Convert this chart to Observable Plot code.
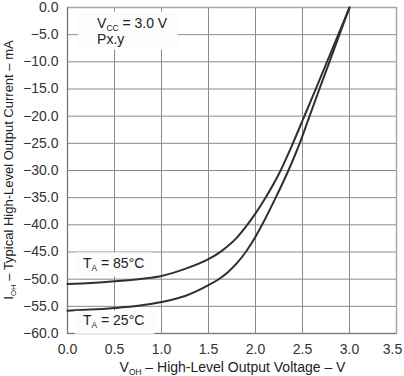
<!DOCTYPE html>
<html><head><meta charset="utf-8">
<script src="https://cdn.jsdelivr.net/npm/d3@7"></script>
<script src="https://cdn.jsdelivr.net/npm/@observablehq/plot@0.6"></script>
<style>
body{margin:0;background:#fff;}
svg{display:block;}
</style>
</head><body><div id="chart"></div>
<script>
// ---- data ----
const xTicks = [0, 0.5, 1.0, 1.5, 2.0, 2.5, 3.0, 3.5];
const yTicks = [0, -5, -10, -15, -20, -25, -30, -35, -40, -45, -50, -55, -60];

const volts85 = [0, 0.25, 0.5, 0.75, 1.0, 1.25, 1.5, 1.6, 1.7, 1.8, 1.9, 2.0, 2.1, 2.25, 2.385, 2.51, 2.634, 2.756, 2.878, 3.0];
const current85 = [-50.9, -50.7, -50.4, -50.0, -49.4, -48.1, -46.3, -45.3, -44.0, -42.4, -40.3, -37.9, -35.2, -30.6, -25.5, -20.4, -15.3, -10.2, -5.1, 0];

const volts25 = [0, 0.25, 0.5, 0.75, 1.0, 1.25, 1.5, 1.6, 1.7, 1.8, 1.9, 2.0, 2.07, 2.215, 2.35, 2.47, 2.575, 2.68, 2.787, 2.893, 3.0];
const current25 = [-55.8, -55.6, -55.3, -54.9, -54.2, -53.1, -51.1, -50.1, -48.8, -47.1, -44.9, -42.2, -40.0, -35.0, -30.0, -25.0, -20.0, -15.0, -10.0, -5.0, 0];

const seriesNames = ["TA = 85°C", "TA = 25°C"];

// annotation texts (main, subscript, rest) and their anchors in data units
const noteMain = ["V", "", "T", "T"];
const noteSub = ["CC", "", "A", "A"];
const noteRest = [" = 3.0 V", "Px.y", " = 85°C", " = 25°C"];
const noteX = [0.32, 0.32, 0.17, 0.17];
const noteY = [-3.8, -6.9, -48.1, -58.5];

const xLabel = ["V", "OH", " – High-Level Output Voltage – V"];
const yLabel = ["I", "OH", " – Typical High-Level Output Current – mA"];

// ---- table ----
const rows = [
  ...volts85.map((v, k) => ({v, i: current85[k], s: seriesNames[0]})),
  ...volts25.map((v, k) => ({v, i: current25[k], s: seriesNames[1]}))
];

const fmt = d3.format(".1f");
const FONT = "'Liberation Sans', Arial, Helvetica, sans-serif";

const chart = Plot.plot({
  width: 404,
  height: 376,
  marginLeft: 67,
  marginRight: 8,
  marginTop: 7,
  marginBottom: 43,
  style: {fontFamily: FONT, fontSize: "14px", color: "#333", background: "#fff"},
  x: {domain: [0, 3.5], ticks: xTicks, tickFormat: fmt, label: null},
  y: {domain: [-60, 0], ticks: yTicks, tickFormat: fmt, label: null},
  marks: [
    Plot.gridX(xTicks, {stroke: "#8a8a8a", strokeOpacity: 1}),
    Plot.gridY(yTicks, {stroke: "#8a8a8a", strokeOpacity: 1}),
    Plot.frame({stroke: "#a8a8a8", strokeWidth: 1.5}),
    Plot.ruleX([0], {stroke: "#777"}),
    Plot.ruleY([-60], {stroke: "#777"}),
    Plot.axisX(xTicks, {tickSize: 0, tickPadding: 11, tickFormat: fmt, fill: "#333", label: null, fontSize: 14}),
    Plot.axisY(yTicks, {tickSize: 0, tickPadding: 9, tickFormat: fmt, fill: "#333", label: null, fontSize: 14}),
    Plot.line(rows, {x: "v", y: "i", z: "s", stroke: "#303030", strokeWidth: 2, curve: "monotone-x"})
  ]
});

document.getElementById("chart").appendChild(chart);

const svg = d3.select(chart);
const sx = chart.scale("x"), sy = chart.scale("y");

// keep the last x tick label inside the picture
svg.selectAll("text").filter(function () { return this.textContent === fmt(xTicks[xTicks.length - 1]); })
  .attr("dx", -4);

function subText(g, parts, size) {
  const t = g.append("text").attr("font-family", FONT).attr("font-size", size).attr("fill", "#222");
  t.append("tspan").text(parts[0]);
  if (parts[1]) t.append("tspan").attr("font-size", size * 0.6).attr("dy", 3).text(parts[1]);
  t.append("tspan").attr("dy", parts[1] ? -3 : 0).text(parts[2]);
  return t;
}

// annotations with light backgrounds
const ann = svg.append("g").attr("text-anchor", "start");
const boxes = ann.append("g");
const texts = ann.append("g");
const made = noteRest.map((rest, k) =>
  subText(texts, [noteMain[k], noteSub[k], rest], 14)
    .attr("text-anchor", "start")
    .attr("x", sx.apply(noteX[k])).attr("y", sy.apply(noteY[k]))
);
const b0 = made[0].node().getBBox(), b1 = made[1].node().getBBox();
const boxList = [{
  x: Math.min(b0.x, b1.x) - 19, y: b0.y - 3,
  w: Math.max(b0.x + b0.width, b1.x + b1.width) - Math.min(b0.x, b1.x) + 29,
  h: (b1.y + b1.height) - b0.y + 5
}];
[[2, 6, 8, 3, 3], [3, 8, 10, 1, 4]].forEach(([k, l, r, t, b]) => {
  const bb = made[k].node().getBBox();
  boxList.push({x: bb.x - l, y: bb.y - t, w: bb.width + l + r, h: bb.height + t + b});
});
boxes.selectAll("rect").data(boxList).join("rect")
  .attr("x", d => d.x).attr("y", d => d.y).attr("width", d => d.w).attr("height", d => d.h)
  .attr("fill", "#fcfcfc");

// axis labels
subText(svg.append("g"), xLabel, 14)
  .attr("text-anchor", "middle")
  .attr("x", (sx.range[0] + sx.range[1]) / 2 + 1)
  .attr("y", 372);
const yMid = (sy.range[0] + sy.range[1]) / 2;
subText(svg.append("g").attr("transform", `translate(13,${yMid}) rotate(-90)`), yLabel, 13)
  .attr("text-anchor", "middle");
</script>
</body></html>
